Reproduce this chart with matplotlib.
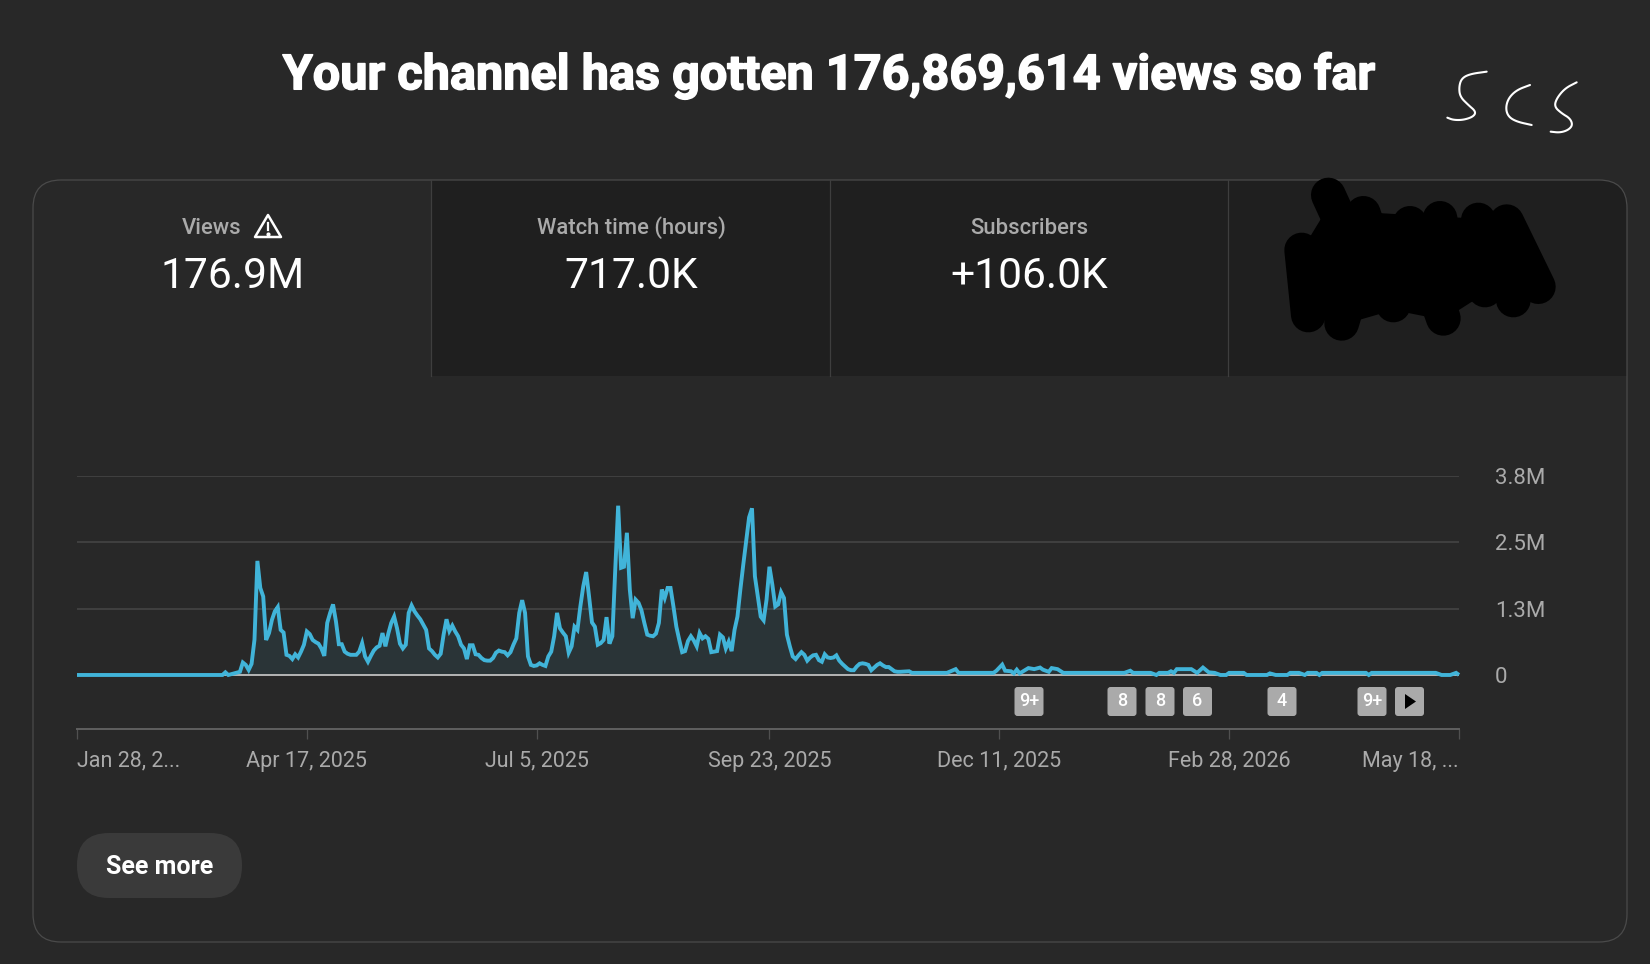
import numpy as np
import matplotlib
matplotlib.use('Agg')
import matplotlib.pyplot as plt
from matplotlib.patches import FancyBboxPatch, Polygon, Rectangle
import matplotlib.patheffects as pe

plt.rcParams['font.family'] = ['Roboto', 'DejaVu Sans']

BG = '#282828'
TAB_DARK = '#1f1f1f'
BORDER = '#4a4a4a'
GREY = '#aaaaaa'
BLUE = '#41b4d9'

# Daily views in millions, day 0 is Jan 28, 2025
days_flat = [0, 50]
views_flat = [0, 0]
days_spring = [51, 52, 54, 56, 57, 58, 59, 60, 61, 62, 63, 64, 65, 66, 67, 68,
               69, 70, 71, 72, 73, 74, 75, 76, 77, 78, 79, 80, 81, 82, 83, 84,
               85, 86, 87, 88, 89, 90, 91, 92, 93, 94, 95, 96, 97, 98, 99, 100,
               101, 102, 103, 104, 105, 106, 107, 108, 109, 110, 111, 112, 113,
               114, 115, 116, 117, 118, 119, 120, 121, 122, 123, 124, 125, 126,
               127, 128, 129, 130, 131, 132, 133, 134, 135, 136, 137, 138, 139,
               140, 141, 142, 143, 144, 145, 146, 147, 148, 149, 150, 151, 152,
               153, 154, 155, 156, 157, 158, 159, 160, 161]
views_spring = [.05, 0, .03, .06, .235, .19, .095, .21, .665, 2.15, 1.64, 1.48,
                .66, .79, 1.04, 1.2, 1.28, .85, .80, .38, .36, .30, .39, .33,
                .44, .57, .82, .77, .66, .62, .59, .50, .36, .98, 1.17, 1.33,
                1.01, .58, .58, .44, .40, .38, .38, .38, .44, .60, .35, .25,
                .36, .46, .52, .55, .79, .54, .78, .98, 1.10, .88, .59, .50,
                .57, 1.17, 1.31, 1.2, 1.12, 1.05, .95, .85, .50, .45, .38, .33,
                .40, .76, 1.05, .83, .93, .82, .73, .57, .50, .30, .56, .56,
                .39, .38, .32, .28, .27, .27, .32, .42, .46, .44, .43, .37,
                .43, .57, .69, 1.17, 1.41, 1.17, .35, .19, .17, .18, .22, .19,
                .17]
days_summer = list(range(162, 284))
views_summer = [.35, .44, .73, 1.17, .88, .80, .73, .42, .54, .91, .85, 1.29,
                1.67, 1.94, 1.48, .99, .91, .57, .60, .66, 1.09, .59, .73, 1.99,
                3.19, 2.02, 2.04, 2.68, 1.61, 1.07, 1.42, 1.36, 1.22, .98, .76,
                .74, .73, .78, .98, 1.61, 1.45, 1.64, 1.64, 1.29, .91, .66, .43,
                .45, .64, .73, .65, .54, .79, .69, .73, .68, .43, .44, .45, .76,
                .71, .50, .63, .45, .85, 1.10, 1.61, 2.08, 2.52, 2.97, 3.14,
                1.86, 1.48, 1.10, 1.03, 1.42, 2.04, 1.70, 1.29, 1.33, 1.56,
                1.45, .76, .54, .35, .30, .37, .43, .38, .27, .33, .37, .38,
                .28, .25, .39, .33, .32, .33, .37, .27, .21, .16, .11, .09,
                .09, .16, .21, .22, .21, .19, .09, .14, .19, .22, .18, .15,
                .15, .11, .07, .06, .06]
days_tail = [286, 287, 299, 302, 303, 315, 316, 318, 319, 321, 322, 323, 324,
             327, 329, 331, 332, 334, 335, 337, 339, 360, 362, 363, 369, 371,
             372, 375, 376, 377, 378, 383, 385, 387, 389, 391, 393, 395, 396,
             401, 402, 409, 410, 412, 416, 417, 420, 422, 423, 426, 427, 428,
             443, 444, 445, 467, 469, 472, 474, 475]
views_tail = [.07, .04, .04, .11, .04, .04, .08, .195, .08, .07, .03, .10, .03,
              .13, .11, .14, .10, .06, .13, .11, .04, .04, .08, .04, .04, 0,
              .04, .04, .07, .04, .11, .11, .04, .14, .05, .04, 0, 0, .04, .04,
              0, 0, .03, 0, 0, .04, .04, 0, .04, .04, 0, .04, .04, 0, .04, .04,
              0, 0, .04, 0]

days = days_flat + days_spring + days_summer + days_tail
views = views_flat + views_spring + views_summer + views_tail

y_ticks = [0, 1.25, 2.5, 3.75]
y_labels = ['0', '1.3M', '2.5M', '3.8M']
x_ticks = [0, 79, 158, 238, 317, 396, 475]
x_labels = ['Jan 28, 2...', 'Apr 17, 2025', 'Jul 5, 2025', 'Sep 23, 2025',
            'Dec 11, 2025', 'Feb 28, 2026', 'May 18, ...']

tab_titles = ['Views', 'Watch time (hours)', 'Subscribers']
tab_values = ['176.9M', '717.0K', '+106.0K']
badge_labels = ['9+', '8', '8', '6', '4', '9+']
badge_centers = [1029, 1122, 1160, 1197.5, 1282, 1372]


def smooth(points, rounds=3):
    """Corner cutting, so pen strokes do not look like polylines"""
    pts = np.array(points, dtype=float)
    for _ in range(rounds):
        q = 0.75 * pts[:-1] + 0.25 * pts[1:]
        r = 0.25 * pts[:-1] + 0.75 * pts[1:]
        mid = np.empty((q.shape[0] * 2, 2))
        mid[0::2] = q
        mid[1::2] = r
        pts = np.vstack([pts[0], mid, pts[-1]])
    return pts


W, H = 1650, 964
fig = plt.figure(figsize=(W / 100, H / 100), dpi=100, facecolor=BG)

# Page furniture is laid out in pixels on a full size axes
ui = fig.add_axes([0, 0, 1, 1], zorder=0)
ui.set_xlim(0, W)
ui.set_ylim(H, 0)
ui.axis('off')

ui.text(829, 76, 'Your channel has gotten 176,869,614 views so far',
        color='white', fontsize=35, fontweight='bold', ha='center',
        va='center',
        path_effects=[pe.withStroke(linewidth=1.1, foreground='white')])

# Card with the darker tabs clipped to its rounded corners
card = FancyBboxPatch((33, 180), 1594, 762, boxstyle='round,pad=0,rounding_size=28',
                      fc=BG, ec='none')
ui.add_patch(card)
tabs = Rectangle((431, 180), 1196, 196, fc=TAB_DARK, ec='none')
ui.add_patch(tabs)
tabs.set_clip_path(card)
for sx in [431, 830, 1228]:
    ui.plot([sx, sx], [180, 376], color='#3e3e3e', lw=0.9)
ui.add_patch(FancyBboxPatch((33, 180), 1594, 762,
                            boxstyle='round,pad=0,rounding_size=28',
                            fc='none', ec=BORDER, lw=0.9))

for cx, title in zip([212, 631, 1029], tab_titles):
    ui.text(cx, 228, title, color=GREY, fontsize=15.8, fontweight='medium',
            ha='center', va='center')
for cx, value in zip([233, 631, 1029], tab_values):
    ui.text(cx, 276, value, color='white', fontsize=30.7, ha='center',
            va='center')

# Warning sign beside the first tab title
ui.add_patch(Polygon([(268, 215), (281, 237), (255, 237)], closed=True,
                     fc='none', ec='white', lw=1.8, joinstyle='round'))
ui.plot([268, 268], [223, 230], color='white', lw=1.6)
ui.plot([268], [233.5], 'o', color='white', ms=2)

# Black scribble over the fourth tab
core = np.array([(265, 470), (430, 490), (600, 500), (800, 510), (890, 710),
                 (735, 730), (610, 810), (460, 780), (305, 825), (215, 800),
                 (180, 610)]) / 3 + [1240, 50]
ui.add_patch(Polygon(core, closed=True, fc='black', ec='none'))
scribble_strokes = [
    [(265, 435), (350, 620)], [(185, 600), (205, 795)], [(305, 820), (370, 600)],
    [(370, 490), (460, 765)], [(510, 520), (610, 805)], [(600, 505), (630, 730)],
    [(715, 510), (735, 720)], [(800, 515), (895, 710)], [(820, 750), (800, 600)],
]
for stroke in scribble_strokes:
    pts = np.array(stroke) / 3 + [1240, 50]
    ui.plot(pts[:, 0], pts[:, 1], color='black', lw=25,
            solid_capstyle='round')

# Handwritten letters
strokes = [
    [(740, 65), (690, 72), (665, 85), (657, 110), (660, 140), (685, 165),
     (708, 185), (700, 200), (670, 210), (640, 210), (622, 203)],
    [(870, 105), (830, 120), (805, 145), (797, 175), (805, 200), (830, 215),
     (875, 225)],
    [(1010, 97), (975, 115), (950, 145), (943, 170), (965, 190), (990, 205),
     (998, 225), (985, 240), (960, 248), (932, 245)],
]
for stroke in strokes:
    pts = smooth(np.array(stroke) / 3 + [1240, 50])
    ui.plot(pts[:, 0], pts[:, 1], color='white', lw=1.5,
            solid_joinstyle='round', solid_capstyle='round')

# See more button
ui.add_patch(FancyBboxPatch((77, 833), 165, 65,
                            boxstyle='round,pad=0,rounding_size=32',
                            fc='#3a3a3a', ec='none'))
ui.text(159.5, 867, 'See more', color='white', fontsize=18, fontweight='bold',
        ha='center', va='center')

# Chart
top, bottom = 476, 728.5
left, right = 77, 1459
ax = fig.add_axes([left / W, 1 - bottom / H, (right - left) / W,
                   (bottom - top) / H], zorder=1)
ax.patch.set_visible(False)
ax.set_xlim(0, 475)
ax.set_ylim(-(bottom - 675) / 66.3 * 1.25, 3.75)
for side in ['top', 'left', 'right']:
    ax.spines[side].set_visible(False)
ax.spines['bottom'].set_color('#606060')
ax.spines['bottom'].set_linewidth(1.4)

ax.yaxis.tick_right()
ax.set_yticks(y_ticks, y_labels)
ax.tick_params(axis='y', length=0, pad=26, colors=GREY, labelsize=16)
ax.set_xticks(x_ticks, x_labels)
ax.tick_params(axis='x', length=7, width=0.9, color='#505050', pad=9,
               labelcolor=GREY, labelsize=15.5)
labels = ax.get_xticklabels()
labels[0].set_ha('left')
labels[-1].set_ha('right')

ax.grid(axis='y', color='#444444', lw=1.2)
ax.set_axisbelow(True)
ax.axhline(0, color='#b5b5b5', lw=1.4, zorder=2)
ax.fill_between(days, views, 0, color=BLUE, alpha=0.09, lw=0, zorder=1.5)
ax.plot(days, views, color=BLUE, lw=2.8, solid_joinstyle='miter',
        solid_capstyle='butt', zorder=3, clip_on=False)

# Upload badges under the line
over = fig.add_axes([0, 0, 1, 1], zorder=2)
over.set_xlim(0, W)
over.set_ylim(H, 0)
over.axis('off')
for cx, label in zip(badge_centers, badge_labels):
    over.add_patch(FancyBboxPatch((cx - 14.5, 687), 29, 29,
                                  boxstyle='round,pad=0,rounding_size=3',
                                  fc=GREY, ec='none'))
    over.text(cx, 701.5, label, color='white', fontsize=13, fontweight='medium',
              ha='center', va='center')
over.add_patch(FancyBboxPatch((1395, 687), 29, 29,
                              boxstyle='round,pad=0,rounding_size=3',
                              fc=GREY, ec='none'))
over.add_patch(Polygon([(1405, 694), (1416, 701.5), (1405, 709)], closed=True,
                       fc='black', ec='none'))

fig.savefig('out.png', dpi=100, facecolor=BG)
